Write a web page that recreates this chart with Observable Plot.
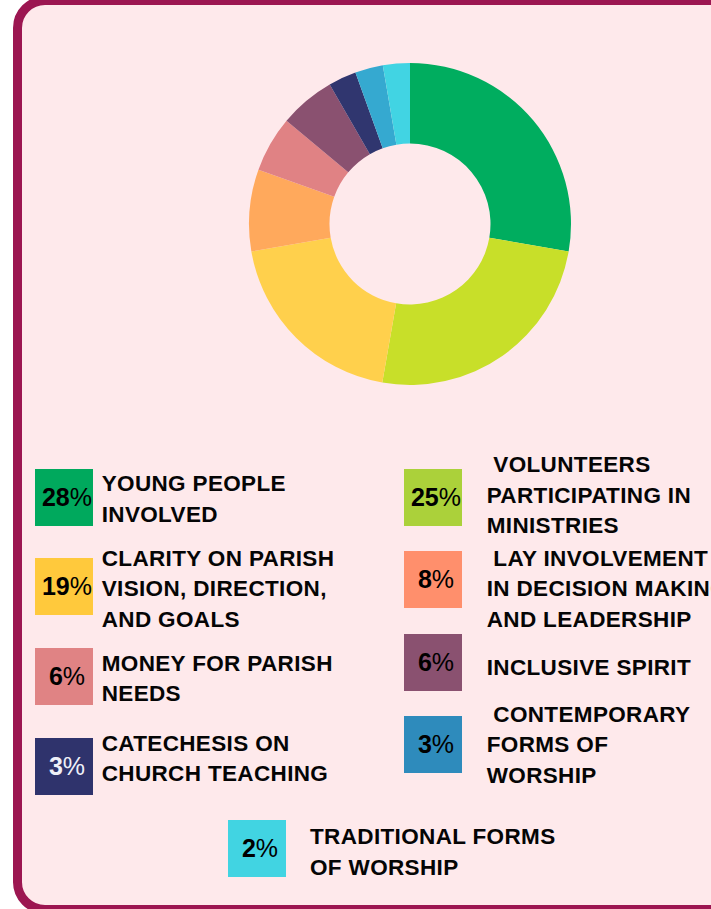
<!DOCTYPE html>
<html><head><meta charset="utf-8">
<script src="https://cdn.jsdelivr.net/npm/d3@7"></script>
<script src="https://cdn.jsdelivr.net/npm/@observablehq/plot@0.6"></script>
<style>
html,body{margin:0;padding:0;background:#fff;}
body{width:711px;height:909px;overflow:hidden;position:relative;font-family:"Liberation Sans",Arial,sans-serif;}
#card{position:absolute;left:13px;top:-4px;width:760px;height:918px;box-sizing:border-box;border:9px solid #9c1651;border-radius:32px;background:#fee9eb;}
#donut{position:absolute;left:240px;top:54px;}
.sw{position:absolute;width:58px;height:57px;display:flex;align-items:center;justify-content:center;padding-left:6px;box-sizing:border-box;font-size:25px;line-height:1;}
.sw b{font-weight:700}
.sw span{font-weight:400}
.lb{position:absolute;white-space:pre;font-weight:700;font-size:22.5px;line-height:30.5px;color:#050505;letter-spacing:0.35px}
</style></head><body>
<div id="card"></div>
<div id="donut"></div>
<div id="legend"></div>
<script>
// ---- data ----
const names = [
  "Young people involved",
  "Volunteers participating in ministries",
  "Clarity on parish vision, direction, and goals",
  "Lay involvement in decision making and leadership",
  "Money for parish needs",
  "Inclusive spirit",
  "Catechesis on church teaching",
  "Contemporary forms of worship",
  "Traditional forms of worship"
];
const shares = [27.7, 25.0, 19.5, 8.2, 5.6, 5.6, 2.8, 2.8, 2.7];
const pctLabels = ["28%", "25%", "19%", "8%", "6%", "6%", "3%", "3%", "2%"];
const labelLines = [
  "YOUNG PEOPLE\nINVOLVED",
  " VOLUNTEERS\nPARTICIPATING IN\nMINISTRIES",
  "CLARITY ON PARISH\nVISION, DIRECTION,\nAND GOALS",
  " LAY INVOLVEMENT\nIN DECISION MAKING\nAND LEADERSHIP",
  "MONEY FOR PARISH\nNEEDS",
  "INCLUSIVE SPIRIT",
  "CATECHESIS ON\nCHURCH TEACHING",
  " CONTEMPORARY\nFORMS OF\nWORSHIP",
  "TRADITIONAL FORMS\nOF WORSHIP"
];
const sliceColors = ["#00ad5f", "#c8df29", "#ffd04c", "#ffa95c", "#e08284", "#8a5170", "#30366f", "#35a9d0", "#41d4e3"];
const swatchColors = ["#00a95d", "#abd13a", "#ffc93c", "#ff8f6c", "#e08384", "#8a5170", "#2f336c", "#2e8bbc", "#41d4e2"];
const pctTextColors = ["#000", "#000", "#000", "#000", "#000", "#000", "#eef0f8", "#000", "#000"];

// ---- layout (legend slot per item: swatch x, swatch y, text x, text y) ----
const slots = [
  [35, 469, 101.7, 469],
  [404, 469, 486.7, 450.3],
  [35, 558, 101.7, 543.7],
  [404, 551, 486.7, 543.7],
  [35, 648, 101.7, 648.7],
  [404, 634, 486.7, 652.7],
  [35, 738, 101.7, 728.7],
  [404, 716, 486.7, 699.7],
  [228, 820, 310, 822]
];

// ---- donut ----
const slices = names.map((name, i) => ({name, share: shares[i]}));
const arcs = d3.pie().value(d => d.share).sort(null)(slices);
const R = 170 / 161;
const donut = Plot.plot({
  width: 340, height: 340, margin: 0,
  x: {domain: [-R, R], axis: null},
  y: {domain: [-R, R], axis: null},
  color: {domain: names, range: sliceColors},
  style: {background: "transparent"},
  marks: [
    Plot.dot(arcs, {
      x: () => 0, y: () => 0, fill: d => d.data.name,
      render(index, scales, values) {
        const cx = scales.x(0), cy = scales.y(0), r = scales.x(1) - scales.x(0);
        const arc = d3.arc().innerRadius(r * 0.5).outerRadius(r);
        const g = d3.create("svg:g").attr("transform", `translate(${cx},${cy})`);
        g.selectAll("path").data(index).join("path")
          .attr("d", i => arc(arcs[i]))
          .attr("fill", i => values.fill[i]);
        return g.node();
      }
    })
  ]
});
document.getElementById("donut").append(donut);

// ---- legend ----
const legend = d3.select("#legend");
names.forEach((n, i) => {
  const [sx, sy, tx, ty] = slots[i];
  const sw = legend.append("div").attr("class", "sw")
    .style("left", sx + "px").style("top", sy + "px")
    .style("background", swatchColors[i]).style("color", pctTextColors[i]);
  sw.append("b").text(pctLabels[i].replace("%", ""));
  sw.append("span").text("%");
  legend.append("div").attr("class", "lb")
    .style("left", tx + "px").style("top", ty + "px")
    .text(labelLines[i]);
});
</script>
</body></html>
